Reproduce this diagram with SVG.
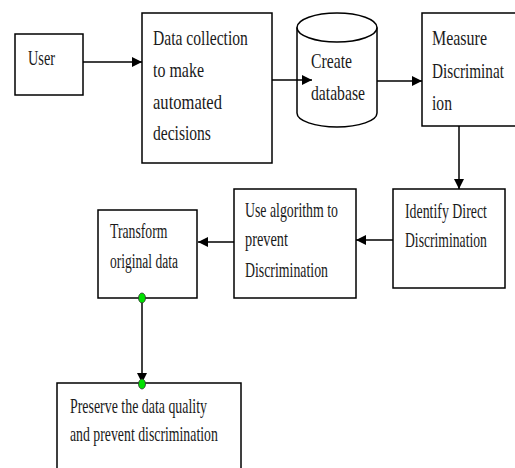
<svg xmlns="http://www.w3.org/2000/svg" width="515" height="468" viewBox="0 0 515 468">
<defs>
<marker id="arr" viewBox="0 0 10 10" refX="10" refY="5" markerWidth="11" markerHeight="10" markerUnits="userSpaceOnUse" orient="auto">
<path d="M0,0 L10,5 L0,10 Z" fill="#000"/>
</marker>
</defs>
<style>
.box{fill:#fff;stroke:#000;stroke-width:1.5}
.t{font-family:"Liberation Serif","Times New Roman",serif;font-size:22px;fill:#1a1a1a}
.s{font-size:20px}
.c{fill:none;stroke:#000;stroke-width:1.5}
.g{fill:#00e000;stroke:#333;stroke-width:0.8}
</style>
<rect width="515" height="468" fill="#fff"/>
<g id="user">
<rect class="box" x="15" y="34" width="68" height="61"/>
<text class="t" transform="translate(28,65) scale(0.65,1)">User</text>
</g>
<g id="data-collection">
<rect class="box" x="142" y="13" width="130" height="150"/>
<text class="t" transform="translate(153,45) scale(0.71,1)">Data collection</text>
<text class="t" transform="translate(153,77) scale(0.726,1)">to make</text>
<text class="t" transform="translate(153,109) scale(0.753,1)">automated</text>
<text class="t" transform="translate(153,140) scale(0.708,1)">decisions</text>
</g>
<g id="database">
<path class="box" d="M297,27.5 L297,113 A40,14 0 0 0 377,113 L377,27.5 A40,14.5 0 0 0 297,27.5 Z"/>
<path class="c" d="M297,27.5 A40,14.5 0 0 0 377,27.5"/>
<text class="t" transform="translate(311,68) scale(0.714,1)">Create</text>
<text class="t" transform="translate(311,100) scale(0.713,1)">database</text>
</g>
<g id="measure">
<rect class="box" x="422" y="13" width="100" height="113"/>
<text class="t" transform="translate(432,45) scale(0.726,1)">Measure</text>
<text class="t" transform="translate(432,78) scale(0.693,1)">Discriminat</text>
<text class="t" transform="translate(432,110) scale(0.71,1)">ion</text>
</g>
<g id="identify">
<rect class="box" x="393" y="189" width="112" height="99"/>
<text class="t s" transform="translate(405,218) scale(0.693,1)">Identify Direct</text>
<text class="t s" transform="translate(405,247) scale(0.683,1)">Discrimination</text>
</g>
<g id="use-algorithm">
<rect class="box" x="234" y="189" width="122" height="109"/>
<text class="t s" transform="translate(245,217) scale(0.692,1)">Use algorithm to</text>
<text class="t s" transform="translate(245,246) scale(0.717,1)">prevent</text>
<text class="t s" transform="translate(245,277) scale(0.692,1)">Discrimination</text>
</g>
<g id="transform">
<rect class="box" x="98" y="210" width="99" height="88"/>
<text class="t s" transform="translate(110,238) scale(0.687,1)">Transform</text>
<text class="t s" transform="translate(110,268) scale(0.676,1)">original data</text>
</g>
<g id="preserve">
<rect class="box" x="57" y="383" width="184" height="100"/>
<text class="t s" transform="translate(70,413) scale(0.695,1)">Preserve the data quality</text>
<text class="t s" transform="translate(70,441) scale(0.69,1)">and prevent discrimination</text>
</g>
<g id="connectors">
<line class="c" x1="83" y1="62" x2="142" y2="62" marker-end="url(#arr)"/>
<line class="c" x1="272" y1="80" x2="312" y2="80" marker-end="url(#arr)"/>
<line class="c" x1="377" y1="81" x2="422" y2="81" marker-end="url(#arr)"/>
<line class="c" x1="459" y1="126" x2="459" y2="189" marker-end="url(#arr)"/>
<line class="c" x1="393" y1="240" x2="356" y2="240" marker-end="url(#arr)"/>
<line class="c" x1="234" y1="242" x2="198" y2="242" marker-end="url(#arr)"/>
<line class="c" x1="142" y1="298" x2="142" y2="383" marker-end="url(#arr)"/>
</g>
<g id="ports">
<ellipse class="g" cx="142" cy="298" rx="3.5" ry="5"/>
<ellipse class="g" cx="142" cy="384" rx="3.5" ry="5"/>
</g>
</svg>
